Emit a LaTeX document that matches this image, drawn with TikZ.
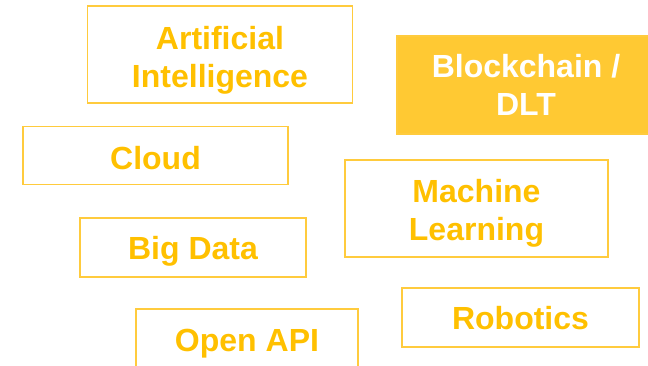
\documentclass[tikz,border=0pt]{standalone}
\usepackage{fontspec}
\setmainfont{Liberation Sans}
\definecolor{txtY}{HTML}{FFC000}
\definecolor{lineY}{HTML}{FFCB3D}
\definecolor{fillY}{HTML}{FFC933}
\begin{document}
\begin{tikzpicture}[x=1pt,y=-1pt,
  box/.style={draw=lineY,line width=1.5pt,inner sep=0pt},
  fbox/.style={box,fill=fillY},
  lbl/.style={anchor=base,inner sep=0pt,text=txtY,font=\fontsize{32}{39}\selectfont\bfseries},
  wlbl/.style={lbl,text=white}]
\useasboundingbox (0,0) rectangle (648,365);
\node[box,minimum width=265pt,minimum height=97pt] (ai) at (220,54.5) {};
\node[lbl] (ai1) at (220,49) {Artificial};
\node[lbl] (ai2) at (220,87) {Intelligence};
\node[fbox,minimum width=258pt,minimum height=98pt] (bc) at (526,85) {};
\node[wlbl] (bc1) at (526,77) {Blockchain /};
\node[wlbl] (bc2) at (526,115) {DLT};
\node[box,minimum width=265pt,minimum height=58pt] (cl) at (155.5,155.5) {};
\node[lbl] (cl1) at (155.5,169) {Cloud};
\node[box,minimum width=226pt,minimum height=59pt] (bd) at (193,247.5) {};
\node[lbl] (bd1) at (193,259) {Big Data};
\node[box,minimum width=263pt,minimum height=97pt] (ml) at (476.5,208.5) {};
\node[lbl] (ml1) at (476.5,202.5) {Machine};
\node[lbl] (ml2) at (476.5,240.5) {Learning};
\node[box,minimum width=237pt,minimum height=59pt] (rb) at (520.5,317.5) {};
\node[lbl] (rb1) at (520.5,329) {Robotics};
\node[box,minimum width=222pt,minimum height=62pt] (oa) at (247,340) {};
\node[lbl] (oa1) at (247,351) {Open API};
\end{tikzpicture}
\end{document}
